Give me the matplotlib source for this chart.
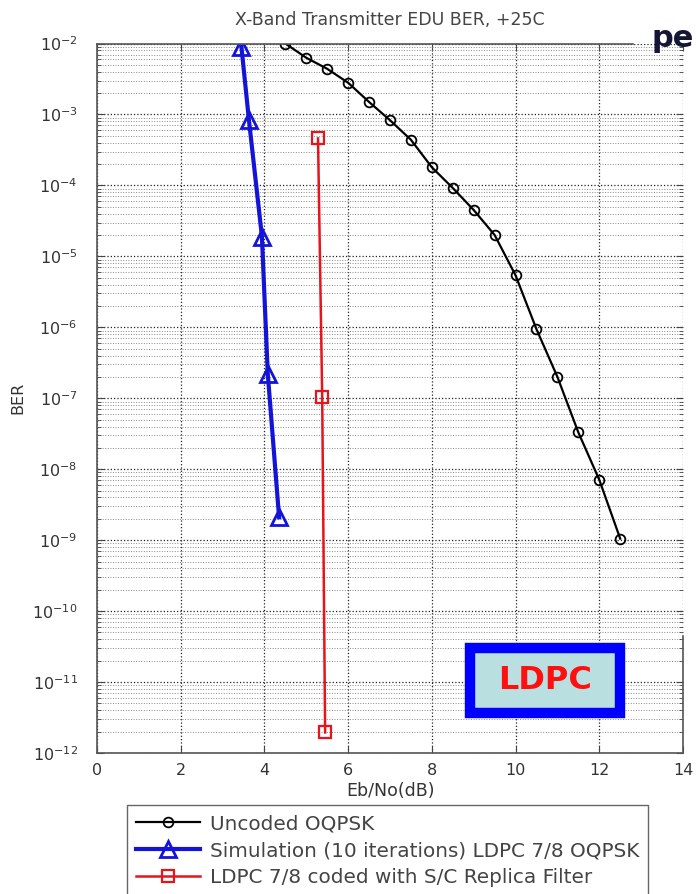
import numpy as np
import matplotlib
matplotlib.use('Agg')
import matplotlib.pyplot as plt
from matplotlib.patches import Rectangle

# values
ebno_uncoded = [4.5, 5.0, 5.5, 6.0, 6.5, 7.0, 7.5, 8.0, 8.5, 9.0, 9.5,
                10.0, 10.5, 11.0, 11.5, 12.0, 12.5]
ber_uncoded = [1.0e-2, 6.3e-3, 4.4e-3, 2.8e-3, 1.5e-3, 8.3e-4, 4.4e-4, 1.8e-4,
               9.2e-5, 4.5e-5, 2.0e-5, 5.4e-6, 9.4e-7, 2.0e-7, 3.3e-8, 7.1e-9,
               1.05e-9]

ebno_sim = [3.45, 3.63, 3.94, 4.08, 4.35]
ber_sim = [9.0e-3, 8.3e-4, 1.9e-5, 2.2e-7, 2.1e-9]

ebno_filter = [5.28, 5.38, 5.45]
ber_filter = [4.6e-4, 1.05e-7, 1.95e-12]

labels = ['Uncoded OQPSK',
          'Simulation (10 iterations) LDPC 7/8 OQPSK',
          'LDPC 7/8 coded with S/C Replica Filter']

plt.rcParams['font.family'] = ['DejaVu Sans']

fig = plt.figure(figsize=(6.96, 8.94), dpi=100)
ax = fig.add_axes([0.1394, 0.1577, 0.8419, 0.7936])

ax.semilogy(ebno_uncoded, ber_uncoded, color='black', lw=1.6, marker='o',
            markersize=7, markerfacecolor='none', markeredgewidth=1.3, label=labels[0])
ax.semilogy(ebno_sim, ber_sim, color='#1414d8', lw=3.0, marker='^',
            markersize=11, markerfacecolor='none', markeredgewidth=2.0, label=labels[1])
ax.semilogy(ebno_filter, ber_filter, color='#e8141c', lw=1.8, marker='s',
            markersize=9, markerfacecolor='none', markeredgewidth=1.6, label=labels[2])

ax.set_xlim(0, 14)
ax.set_ylim(1e-12, 1e-2)
ax.set_xticks(range(0, 15, 2))
ax.yaxis.set_major_locator(matplotlib.ticker.LogLocator(base=10, numticks=20))
ax.yaxis.set_minor_locator(matplotlib.ticker.LogLocator(base=10, subs=np.arange(2, 10), numticks=20))

ax.grid(True, which='major', axis='both', ls=':', color='#222222', lw=0.9)
ax.grid(True, which='minor', axis='y', ls=':', color='#888888', lw=0.7)

ax.tick_params(which='both', direction='in', top=True, right=True, colors='#444444',
               labelsize=11.5, labelcolor='#333333')
ax.tick_params(which='major', length=5)
ax.tick_params(which='minor', length=3)
ax.tick_params(axis='y', which='major', pad=14)
ax.tick_params(axis='x', which='major', pad=7)

for s in ax.spines.values():
    s.set_color('#555555')
    s.set_linewidth(1.2)
# the slide text box hides part of the frame at the top right
ax.spines['top'].set_bounds(0, 12.8)
ax.spines['right'].set_bounds(1e-12, 4.4e-11)

ax.set_title('X-Band Transmitter EDU BER, +25C', fontsize=12.5, color='#444444', pad=13)
ax.set_xlabel('Eb/No(dB)', fontsize=12.5, color='#333333', labelpad=3)
ax.set_ylabel('BER', fontsize=11.5, color='#333333', labelpad=5)

# LDPC label box
ax.add_patch(Rectangle((0.6365, 0.0564), 0.256, 0.0916, transform=ax.transAxes,
                       facecolor='#b9dfe1', edgecolor='#0000ff', linewidth=7.5,
                       zorder=5, clip_on=False))
ax.text(0.7645, 0.102, 'LDPC', transform=ax.transAxes, ha='center', va='center',
        fontsize=23, fontweight='bold', color='#ff1010', zorder=6)

fig.text(0.936, 0.957, 'pe', fontsize=22, fontweight='bold', color='#151535',
         ha='left', va='center')

leg = fig.legend(loc='upper left', bbox_to_anchor=(0.182, 0.099), fontsize=14.4,
                 handlelength=3.2, handletextpad=0.5, borderpad=0.45, labelspacing=0.4,
                 borderaxespad=0, fancybox=False, edgecolor='#666666', framealpha=1)
for t in leg.get_texts():
    t.set_color('#444444')

fig.savefig('out.png', dpi=100)
